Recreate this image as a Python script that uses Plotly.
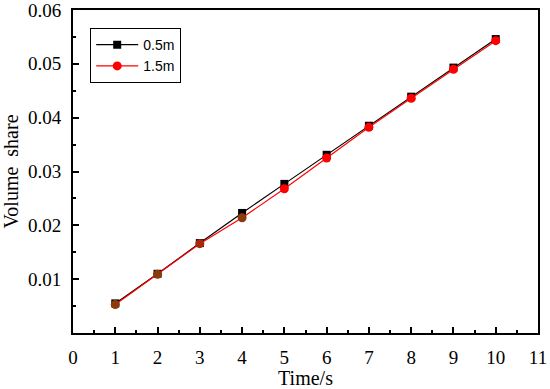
import plotly.graph_objects as go

time_s = [1, 2, 3, 4, 5, 6, 7, 8, 9, 10]
share_05m = [0.0055, 0.0110, 0.0167, 0.0223, 0.0277, 0.0331, 0.0385, 0.0439, 0.0493, 0.0546]
share_15m = [0.0053, 0.0109, 0.0166, 0.0214, 0.0268, 0.0325, 0.0382, 0.0436, 0.0490, 0.0543]
x_ticks = list(range(0, 12))
y_ticks = [0.01, 0.02, 0.03, 0.04, 0.05, 0.06]
y_tick_text = ["0.01", "0.02", "0.03", "0.04", "0.05", "0.06"]

circle_colors = ["#8a3a0c", "#8a3a0c", "#a8280c", "#8a3a0c"] + ["#ff0000"] * 6

fig = go.Figure()
fig.add_trace(go.Scatter(
    x=time_s, y=share_05m, name="0.5m", mode="lines+markers",
    line=dict(color="black", width=1.2),
    marker=dict(symbol="square", size=8, color="black"),
))
fig.add_trace(go.Scatter(
    x=time_s, y=share_15m, name="1.5m", mode="lines+markers", showlegend=False,
    line=dict(color="#ff0000", width=1.2),
    marker=dict(symbol="circle", size=9, color=circle_colors),
))
# legend entry for 1.5m with pure red marker
fig.add_trace(go.Scatter(
    x=[None], y=[None], name="1.5m", mode="lines+markers",
    line=dict(color="#ff0000", width=1.2),
    marker=dict(symbol="circle", size=9, color="#ff0000"),
))

serif = "Liberation Serif"
fig.update_layout(
    width=550, height=389,
    margin=dict(l=73, r=12, t=10, b=56),
    paper_bgcolor="white", plot_bgcolor="white",
    showlegend=True,
    legend=dict(
        x=0.037, y=0.944, xanchor="left", yanchor="top",
        bordercolor="black", borderwidth=1, bgcolor="white",
        font=dict(family="Liberation Sans, Arial, sans-serif", size=14, color="black"),
        tracegroupgap=0, itemwidth=42,
    ),
    xaxis=dict(
        range=[0, 11], tickvals=x_ticks, ticktext=[str(v) for v in x_ticks],
        ticks="inside", ticklen=6, tickwidth=1.5, tickcolor="black",
        minor=dict(ticks="inside", ticklen=3, dtick=0.5, tickcolor="black", tickwidth=1.5),
        showline=True, linecolor="black", linewidth=2, mirror=True,
        showgrid=False, zeroline=False, automargin=False,
        tickfont=dict(family=serif, size=19, color="black"),
        title=dict(text="Time/s", font=dict(family=serif, size=20, color="black")),
        ticklabelstandoff=6, ticklabeloverflow="allow",
    ),
    yaxis=dict(
        range=[0, 0.06], tickvals=y_ticks, ticktext=y_tick_text,
        ticks="inside", ticklen=6, tickwidth=1.5, tickcolor="black",
        minor=dict(ticks="inside", ticklen=3, dtick=0.005, tickcolor="black", tickwidth=1.5),
        showline=True, linecolor="black", linewidth=2, mirror=True,
        showgrid=False, zeroline=False, automargin=False,
        tickfont=dict(family=serif, size=19, color="black"),
        title=dict(text="Volume  share", font=dict(family=serif, size=20, color="black")),
        ticklabelstandoff=6, ticklabeloverflow="allow",
    ),
)

fig.write_html("out.html", config={"displayModeBar": False},
               post_script="document.body.style.margin='0';")
